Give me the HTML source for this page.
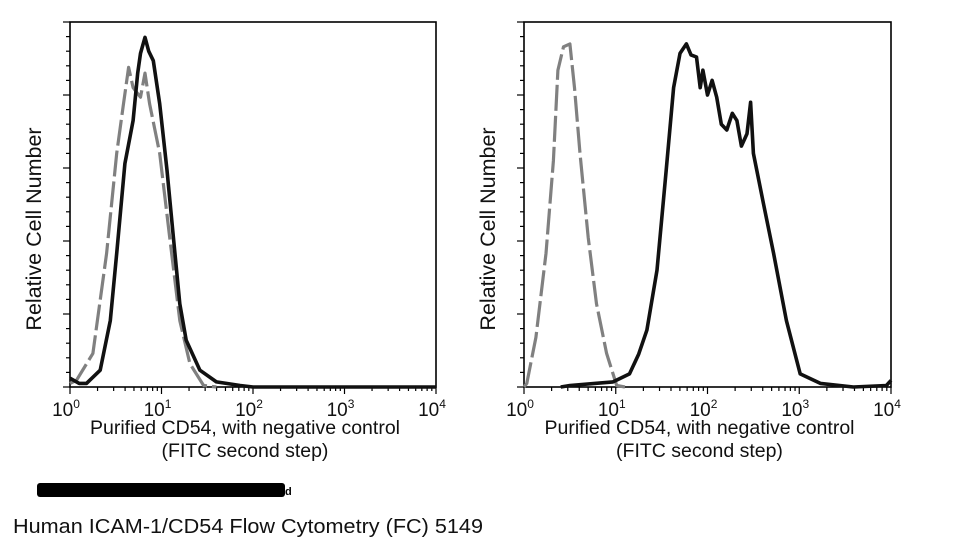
<!DOCTYPE html>
<html><head><meta charset="utf-8"><style>
body{margin:0;background:#fff;width:960px;height:541px;overflow:hidden}
svg text{font-family:"Liberation Sans",Arial,sans-serif}
</style></head><body>
<svg id="chart" width="960" height="541" viewBox="0 0 960 541" xmlns="http://www.w3.org/2000/svg">
<rect x="37" y="483" width="248" height="14" rx="3" fill="#000"/>
<text x="285" y="495" font-size="11" font-weight="bold">d</text>
<text x="13" y="533" font-size="20" textLength="470" lengthAdjust="spacingAndGlyphs" fill="#111">Human ICAM-1/CD54 Flow Cytometry (FC) 5149</text>
</svg>
<script>
// Left panel: log10(intensity) and relative count (0..5 scale)
const leftCtrlX = [0,0.07,0.25,0.4,0.51,0.58,0.64,0.69,0.77,0.82,0.87,0.98,1.09,1.2,1.31,1.46,1.6];
const leftCtrlY = [0.05,0.09,0.46,1.83,3.2,3.84,4.38,4.1,3.97,4.3,3.88,3.2,2.05,0.91,0.32,0.02,0];
const leftStainX = [0,0.1,0.18,0.33,0.44,0.51,0.6,0.69,0.74,0.77,0.82,0.86,0.91,0.98,1.06,1.13,1.2,1.27,1.42,1.6,1.86,2.0,4.0];
const leftStainY = [0.12,0.05,0.05,0.23,0.91,1.83,3.06,3.65,4.3,4.57,4.79,4.6,4.47,3.88,2.97,2.05,1.14,0.64,0.23,0.07,0.02,0,0];
// Right panel
const rightCtrlX = [0,0.03,0.13,0.24,0.32,0.37,0.43,0.5,0.55,0.61,0.7,0.79,0.9,1.01,1.1];
const rightCtrlY = [0,0.05,0.68,1.83,3.1,4.34,4.66,4.7,4.1,3.2,2.05,1.14,0.46,0.02,0];
const rightStainX = [0.4,0.5,0.97,1.15,1.25,1.34,1.45,1.55,1.63,1.7,1.77,1.82,1.88,1.92,1.95,2.0,2.05,2.1,2.15,2.21,2.27,2.32,2.37,2.43,2.47,2.5,2.61,2.72,2.86,3.01,3.23,3.59,3.95,4.0];
const rightStainY = [0,0.02,0.07,0.18,0.45,0.78,1.6,2.97,4.1,4.57,4.7,4.55,4.52,4.1,4.34,4.0,4.2,3.97,3.6,3.52,3.75,3.65,3.3,3.47,3.9,3.2,2.51,1.83,0.91,0.18,0.05,0,0.02,0.09];
const xTickLabels = ["0","1","2","3","4"];

const NS="http://www.w3.org/2000/svg";
const svg=document.getElementById('chart');
function mk(tag,attrs,parent){const e=document.createElementNS(NS,tag);for(const k in attrs)e.setAttribute(k,attrs[k]);(parent||svg).appendChild(e);return e;}

function panel(x0,x1,name,ctrlX,ctrlY,stX,stY){
  const yB=387,yT=22;
  const sx=v=>x0+(x1-x0)*v/4;
  const sy=v=>yB-(yB-yT)*v/5;
  const g=mk('g',{});
  
  
  const frame=mk('rect',{x:x0,y:yT,width:x1-x0,height:yB-yT,fill:'none',stroke:'#000','stroke-width':1.6},g);
  
  
  for(let i=0;i<=25;i++){
    const y=yB-(yB-yT)*i/25;
    const len=i%5===0?7:4;
    const t=mk('line',{x1:x0-len,x2:x0,y1:y,y2:y,stroke:'#000','stroke-width':1.2},g);
    
    
  }
  for(let d=0;d<4;d++){
    for(let m=1;m<=9;m++){
      const x=sx(d+Math.log10(m));
      const len=m===1?7:4;
      const t=mk('line',{x1:x,x2:x,y1:yB,y2:yB+len,stroke:'#000','stroke-width':1.2},g);
      
      
    }
  }
  const tl=mk('line',{x1:x1,x2:x1,y1:yB,y2:yB+7,stroke:'#000','stroke-width':1.2},g);
  
  
  xTickLabels.forEach((lab,i)=>{
    const t=mk('text',{x:sx(i)-4,y:416,'font-size':19,'text-anchor':'middle',fill:'#111'},g);
    
    
    t.textContent='10';
    const s=mk('tspan',{'font-size':12,dy:-8},t);
    s.textContent=lab;
  });
  const path=(xs,ys)=>xs.map((v,i)=>(i?'L':'M')+sx(v).toFixed(1)+','+sy(ys[i]).toFixed(1)).join('');
  const c=mk('path',{d:path(ctrlX,ctrlY),fill:'none',stroke:'#808080','stroke-width':3.2,'stroke-dasharray':'26,5','stroke-linejoin':'round'},g);
  
  
  const s=mk('path',{d:path(stX,stY),fill:'none',stroke:'#111','stroke-width':3.6,'stroke-linejoin':'round'},g);
  
  
  const cx=(x0+x1)/2-8;
  const t1=mk('text',{x:cx,y:434,'font-size':19.5,'text-anchor':'middle',fill:'#111'},g);
  
  
  t1.textContent='Purified CD54, with negative control';
  const t2=mk('text',{x:cx,y:457,'font-size':19.5,'text-anchor':'middle',fill:'#111'},g);
  
  
  t2.textContent='(FITC second step)';
  const ty=mk('text',{x:0,y:0,'font-size':21.5,'text-anchor':'middle',fill:'#111',transform:`translate(${x0-29},229) rotate(-90)`},g);
  
  
  ty.textContent='Relative Cell Number';
}
panel(70,436,'left-histogram-panel',leftCtrlX,leftCtrlY,leftStainX,leftStainY);
panel(524,891,'right-histogram-panel',rightCtrlX,rightCtrlY,rightStainX,rightStainY);
</script>
</body></html>
